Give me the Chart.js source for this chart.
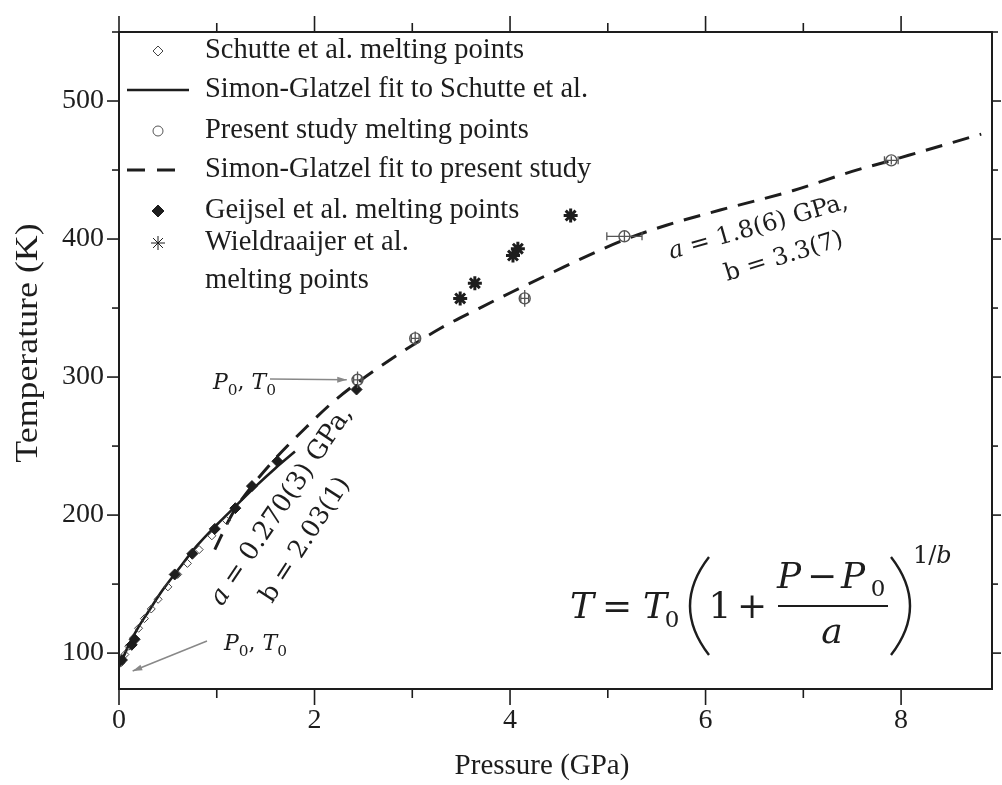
<!DOCTYPE html>
<html>
<head>
<meta charset="utf-8">
<script src="https://cdn.jsdelivr.net/npm/chart.js@4.4.0/dist/chart.umd.min.js"></script>
<style>
  body { margin: 0; background: #fff; }
  canvas { display: block; }
</style>
</head>
<body>
<canvas id="chart" width="1002" height="785"></canvas>
<script>
// pressure in GPa, temperature in K
const schutteP = [0.02, 0.06, 0.10, 0.15, 0.20, 0.26, 0.33, 0.40, 0.50, 0.60, 0.70, 0.82, 0.95, 1.10];
const schutteT = [93, 99, 105, 111, 118, 125, 132, 139, 148, 157, 165, 175, 185, 196];

const schutteFitP = [0, 0.05, 0.10, 0.20, 0.30, 0.45, 0.60, 0.80, 1.00, 1.20, 1.40, 1.60, 1.80];
const schutteFitT = [90, 98, 106, 119, 130, 146, 160, 178, 193, 207, 221, 234, 246];

const presentP = [2.44, 3.03, 4.15, 5.17, 7.90];
const presentT = [298, 328, 357, 402, 457];
const presentPErr = [0.04, 0.04, 0.04, 0.18, 0.07];
const presentTErr = [6, 5, 6, 4, 3];

const presentFitP = [0.98, 1.16, 1.36, 1.60, 1.92, 2.19, 2.44, 2.87, 3.28, 3.69, 4.03, 4.44, 4.89, 5.19, 5.60, 6.15, 6.89, 7.50, 7.90, 8.19, 8.82];
const presentFitT = [175, 201, 221, 241, 264, 282, 296, 317, 335, 350, 362, 376, 391, 400, 410, 421, 435, 449, 457, 463, 476];

const geijselP = [0.03, 0.13, 0.16, 0.57, 0.75, 0.98, 1.19, 1.36, 1.62, 2.43];
const geijselT = [95, 106, 110, 157, 172, 190, 205, 221, 239, 291];

const wieldP = [3.49, 3.64, 4.03, 4.08, 4.62];
const wieldT = [357, 368, 388, 393, 417];

const xTicks = [0, 2, 4, 6, 8];
const xMinorTicks = [1, 3, 5, 7];
const yTicks = [100, 200, 300, 400, 500];
const yMinorTicks = [150, 250, 350, 450, 550];

const legendLabels = [
  'Schutte et al. melting points',
  'Simon-Glatzel fit to Schutte et al.',
  'Present study melting points',
  'Simon-Glatzel fit to present study',
  'Geijsel et al. melting points',
  'Wieldraaijer et al.',
  'melting points'
];

const zip = (xs, ys) => xs.map((v, i) => ({ x: v, y: ys[i] }));
const INK = '#1d1d1d';
const SERIF = '"Liberation Serif", "Times New Roman", serif';
const MATH = '"DejaVu Serif", serif';

const datasets = [
  { label: legendLabels[4], data: zip(geijselP, geijselT), pointStyle: 'rectRot', pointRadius: 5.5,
    backgroundColor: INK, borderColor: INK, borderWidth: 1 },
  { label: legendLabels[5], data: zip(wieldP, wieldT), pointStyle: 'star', pointRadius: 7,
    backgroundColor: INK, borderColor: INK, borderWidth: 3 },
  { label: legendLabels[2], data: zip(presentP, presentT), pointStyle: 'circle', pointRadius: 5.5,
    backgroundColor: 'rgba(0,0,0,0)', borderColor: '#555', borderWidth: 1.4 },
  { label: legendLabels[0], data: zip(schutteP, schutteT), pointStyle: 'rectRot', pointRadius: 4,
    backgroundColor: 'rgba(0,0,0,0)', borderColor: '#444', borderWidth: 1 },
  { label: legendLabels[1], data: zip(schutteFitP, schutteFitT), showLine: true, pointRadius: 0,
    borderColor: INK, borderWidth: 2.6, cubicInterpolationMode: 'monotone' },
  { label: legendLabels[3], data: zip(presentFitP, presentFitT), showLine: true, pointRadius: 0,
    borderColor: INK, borderWidth: 3, borderDash: [17, 11], cubicInterpolationMode: 'monotone' }
];

// frame on all four sides, with major and minor ticks
const axisFrame = {
  id: 'axisFrame',
  afterDraw(chart) {
    const { ctx, chartArea: a, scales: { x, y } } = chart;
    const line = (x1, y1, x2, y2) => { ctx.beginPath(); ctx.moveTo(x1, y1); ctx.lineTo(x2, y2); ctx.stroke(); };
    ctx.save();
    ctx.strokeStyle = INK;
    ctx.lineWidth = 2;
    ctx.strokeRect(a.left, a.top, a.right - a.left, a.bottom - a.top);
    ctx.lineWidth = 1.6;
    xTicks.forEach(v => {
      const px = x.getPixelForValue(v);
      line(px, a.bottom, px, a.bottom + 16);
      line(px, a.top, px, a.top - 16);
    });
    xMinorTicks.forEach(v => {
      const px = x.getPixelForValue(v);
      line(px, a.bottom, px, a.bottom + 9);
      line(px, a.top, px, a.top - 9);
    });
    yTicks.forEach(v => {
      const py = y.getPixelForValue(v);
      line(a.left, py, a.left - 12, py);
      line(a.right, py, a.right + 9, py);
    });
    yMinorTicks.filter(v => v <= y.max).forEach(v => {
      const py = y.getPixelForValue(v);
      line(a.left, py, a.left - 7, py);
      line(a.right, py, a.right + 6, py);
    });
    ctx.restore();
  }
};

// error bars on the present-study points
const errorBars = {
  id: 'errorBars',
  afterDatasetsDraw(chart) {
    const { ctx, scales: { x, y } } = chart;
    ctx.save();
    ctx.strokeStyle = '#555';
    ctx.lineWidth = 1.3;
    presentP.forEach((p, i) => {
      const cx = x.getPixelForValue(p), cy = y.getPixelForValue(presentT[i]);
      const x0 = x.getPixelForValue(p - presentPErr[i]), x1 = x.getPixelForValue(p + presentPErr[i]);
      const y0 = y.getPixelForValue(presentT[i] - presentTErr[i]), y1 = y.getPixelForValue(presentT[i] + presentTErr[i]);
      ctx.beginPath();
      ctx.moveTo(x0, cy); ctx.lineTo(x1, cy);
      ctx.moveTo(x0, cy - 4); ctx.lineTo(x0, cy + 4);
      ctx.moveTo(x1, cy - 4); ctx.lineTo(x1, cy + 4);
      ctx.moveTo(cx, y0); ctx.lineTo(cx, y1);
      ctx.stroke();
    });
    ctx.restore();
  }
};

function runs(ctx, parts, x, y) {
  let cx = x;
  parts.forEach(([text, font, dy]) => {
    ctx.font = font;
    ctx.fillText(text, cx, y + (dy || 0));
    cx += ctx.measureText(text).width;
  });
}

function arrow(ctx, x1, y1, x2, y2) {
  const ang = Math.atan2(y2 - y1, x2 - x1);
  ctx.beginPath(); ctx.moveTo(x1, y1); ctx.lineTo(x2, y2); ctx.stroke();
  ctx.beginPath();
  ctx.moveTo(x2, y2);
  ctx.lineTo(x2 - 10 * Math.cos(ang - 0.3), y2 - 10 * Math.sin(ang - 0.3));
  ctx.lineTo(x2 - 10 * Math.cos(ang + 0.3), y2 - 10 * Math.sin(ang + 0.3));
  ctx.closePath(); ctx.fill();
}

const p0t0 = size => [
  ['P', `italic ${size}px ${MATH}`], ['0', `${size * 0.7}px ${MATH}`, 6],
  [', ', `${size}px ${MATH}`],
  ['T', `italic ${size}px ${MATH}`], ['0', `${size * 0.7}px ${MATH}`, 6]
];

const annotations = {
  id: 'annotations',
  afterDraw(chart) {
    const { ctx, scales: { x, y } } = chart;
    ctx.save();
    ctx.fillStyle = INK;

    // axis titles
    ctx.textAlign = 'center';
    ctx.textBaseline = 'middle';
    ctx.font = `29px ${SERIF}`;
    ctx.fillText('Pressure (GPa)', 542, 766);
    ctx.save();
    ctx.translate(29, 343);
    ctx.rotate(-Math.PI / 2);
    ctx.scale(1.12, 1);
    ctx.font = `32px ${SERIF}`;
    ctx.fillText('Temperature (K)', 0, 0);
    ctx.restore();

    // legend
    ctx.textAlign = 'left';
    ctx.font = `28.5px ${SERIF}`;
    const rowY = [51, 90, 131, 170, 211, 243, 281];
    legendLabels.forEach((t, i) => ctx.fillText(t, 205, rowY[i]));
    const dp = Chart.helpers.drawPoint;
    ctx.strokeStyle = '#444'; ctx.fillStyle = 'rgba(0,0,0,0)';
    dp(ctx, { pointStyle: 'rectRot', radius: 5, borderWidth: 1.2 }, 158, rowY[0]);
    ctx.strokeStyle = '#555';
    dp(ctx, { pointStyle: 'circle', radius: 5, borderWidth: 1.3 }, 158, rowY[2]);
    ctx.strokeStyle = INK; ctx.fillStyle = INK;
    dp(ctx, { pointStyle: 'rectRot', radius: 6, borderWidth: 1 }, 158, rowY[4]);
    dp(ctx, { pointStyle: 'star', radius: 7, borderWidth: 3 }, 158, rowY[5]);
    ctx.lineWidth = 2.6;
    ctx.beginPath(); ctx.moveTo(127, rowY[1]); ctx.lineTo(189, rowY[1]); ctx.stroke();
    ctx.lineWidth = 3;
    ctx.setLineDash([18, 12]);
    ctx.beginPath(); ctx.moveTo(127, rowY[3]); ctx.lineTo(181, rowY[3]); ctx.stroke();
    ctx.setLineDash([]);

    // P0, T0 pointers
    ctx.textBaseline = 'alphabetic';
    ctx.fillStyle = INK;
    runs(ctx, p0t0(22), 213, 389);
    runs(ctx, p0t0(22), 224, 650);
    ctx.strokeStyle = '#888'; ctx.fillStyle = '#888'; ctx.lineWidth = 1.5;
    arrow(ctx, 270, 379, x.getPixelForValue(2.33), y.getPixelForValue(298));
    arrow(ctx, 207, 641, x.getPixelForValue(0.14), y.getPixelForValue(87));

    // fit parameter labels
    ctx.fillStyle = INK;
    ctx.save();
    ctx.translate(222, 607); ctx.rotate(-56 * Math.PI / 180);
    runs(ctx, [['a', `italic 26px ${MATH}`], [' = 0.270(3) GPa,', `26px ${MATH}`]], 0, 0);
    ctx.restore();
    ctx.save();
    ctx.translate(272, 604); ctx.rotate(-57 * Math.PI / 180);
    runs(ctx, [['b = 2.03(1)', `25px ${MATH}`]], 0, 0);
    ctx.restore();
    ctx.save();
    ctx.translate(671, 259); ctx.rotate(-16 * Math.PI / 180);
    runs(ctx, [['a', `italic 24px ${MATH}`], [' = 1.8(6) GPa,', `24px ${MATH}`]], 0, 0);
    ctx.restore();
    ctx.save();
    ctx.translate(727, 281); ctx.rotate(-17 * Math.PI / 180);
    runs(ctx, [['b = 3.3(7)', `24px ${MATH}`]], 0, 0);
    ctx.restore();

    // Simon-Glatzel equation
    ctx.textAlign = 'center';
    const it = `italic 36px ${MATH}`, rm = `36px ${MATH}`, sub = `23px ${MATH}`;
    const put = (t, f, cx, by) => { ctx.font = f; ctx.fillText(t, cx, by); };
    put('T', it, 582, 618);
    put('=', rm, 617, 618);
    put('T', it, 655, 618);
    put('0', sub, 672, 627);
    put('1', rm, 720, 618);
    put('+', rm, 752, 618);
    put('P', it, 789, 588);
    put('\u2212', rm, 822, 588);
    put('P', it, 853, 588);
    put('0', sub, 878, 596);
    put('a', it, 832, 643);
    ctx.textAlign = 'left';
    runs(ctx, [['1/', `24px ${MATH}`], ['b', `italic 24px ${MATH}`]], 913, 563);
    ctx.strokeStyle = INK; ctx.lineWidth = 2;
    ctx.beginPath(); ctx.moveTo(778, 606); ctx.lineTo(888, 606); ctx.stroke();
    ctx.lineWidth = 2.4;
    ctx.beginPath(); ctx.moveTo(709, 557); ctx.quadraticCurveTo(671, 606, 709, 655); ctx.stroke();
    ctx.beginPath(); ctx.moveTo(891, 557); ctx.quadraticCurveTo(929, 606, 891, 655); ctx.stroke();

    ctx.restore();
  }
};

Chart.defaults.font.family = SERIF;

new Chart(document.getElementById('chart').getContext('2d'), {
  type: 'scatter',
  data: { datasets },
  options: {
    responsive: false,
    animation: false,
    layout: { padding: { top: 32, right: 10, left: 0, bottom: 0 } },
    plugins: { legend: { display: false }, tooltip: { enabled: false } },
    scales: {
      x: {
        type: 'linear', min: 0, max: 8.93,
        afterBuildTicks: s => { s.ticks = xTicks.map(v => ({ value: v })); },
        afterFit: s => { s.height = 96; },
        grid: { display: false, drawTicks: false },
        border: { display: false },
        ticks: { padding: 15, color: INK, font: { size: 28 }, callback: v => String(v) }
      },
      y: {
        type: 'linear', min: 74, max: 550,
        afterBuildTicks: s => { s.ticks = yTicks.map(v => ({ value: v })); },
        afterFit: s => { s.width = 119; },
        grid: { display: false, drawTicks: false },
        border: { display: false },
        ticks: { padding: 15, color: INK, font: { size: 28 }, callback: v => String(v) }
      }
    }
  },
  plugins: [axisFrame, errorBars, annotations]
});
</script>
</body>
</html>
